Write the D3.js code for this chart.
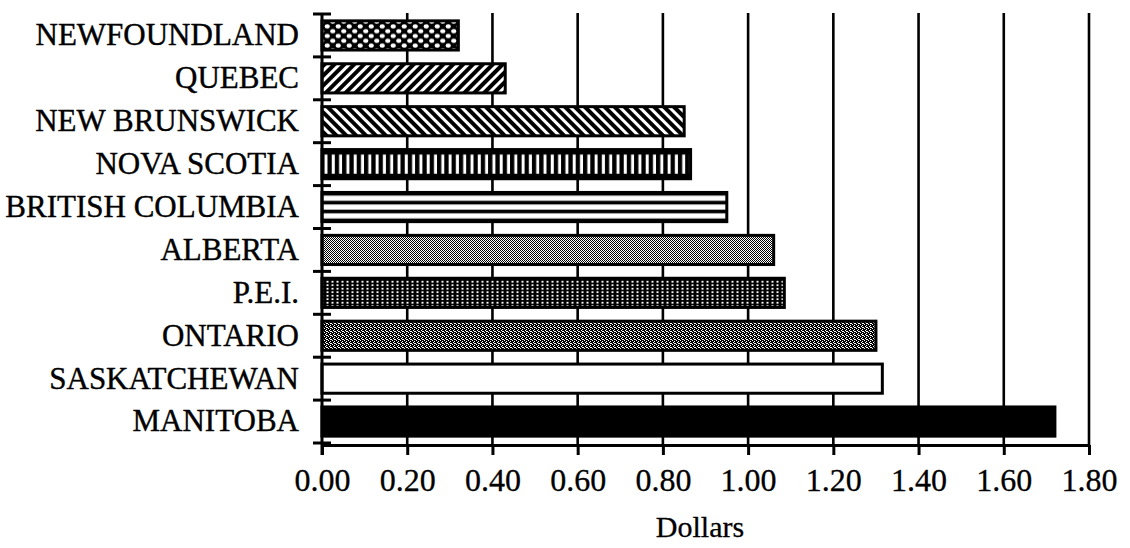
<!DOCTYPE html>
<html>
<head>
<meta charset="utf-8">
<script src="https://cdn.jsdelivr.net/npm/d3@7"></script>
<style>
  html, body { margin: 0; padding: 0; background: #fff; }
  svg { display: block; }
  text { font-family: "Liberation Serif", "Times New Roman", serif; fill: #000; }
</style>
</head>
<body>
<svg id="chart" width="1130" height="548"></svg>
<script>
// Per-province amounts, in dollars
const provinces = ["NEWFOUNDLAND", "QUEBEC", "NEW BRUNSWICK", "NOVA SCOTIA", "BRITISH COLUMBIA",
                   "ALBERTA", "P.E.I.", "ONTARIO", "SASKATCHEWAN", "MANITOBA"];
const dollars = [0.32, 0.43, 0.85, 0.865, 0.95, 1.06, 1.085, 1.30, 1.315, 1.72];
const tickValues = [0, 0.2, 0.4, 0.6, 0.8, 1.0, 1.2, 1.4, 1.6, 1.8];
const axisTitle = "Dollars";

// Fill style for each bar, in the same order as the provinces
const fillStyles = ["dots", "fwd", "back", "vert", "horiz", "light", "pei", "ont", "white", "black"];

const svg = d3.select("#chart");
const x = d3.scaleLinear().domain([0, 1.8]).range([322, 1089]);
const y = d3.scaleBand().domain(provinces).range([14, 443]).paddingInner(0.32).paddingOuter(0.16);
const axisY = 445;

// ---------- hatch / halftone patterns ----------
const defs = svg.append("defs");
function pattern(id, w, h) {
  return defs.append("pattern").attr("id", id)
    .attr("patternUnits", "userSpaceOnUse").attr("width", w).attr("height", h);
}
// coarse white dots on black
{
  const p = pattern("dots", 11, 9.6);
  p.append("rect").attr("width", 11).attr("height", 9.6).attr("fill", "#000");
  p.append("ellipse").attr("cx", 2.75).attr("cy", 2.4).attr("rx", 2.6).attr("ry", 2.1).attr("fill", "#fff");
  p.append("ellipse").attr("cx", 8.25).attr("cy", 7.2).attr("rx", 2.6).attr("ry", 2.1).attr("fill", "#fff");
}
// diagonal stripes
for (const [id, ang] of [["fwd", 45], ["back", -45]]) {
  const p = pattern(id, 7, 7).attr("patternTransform", `rotate(${ang})`);
  p.append("rect").attr("width", 7).attr("height", 7).attr("fill", "#fff");
  p.append("rect").attr("width", 4).attr("height", 7).attr("fill", "#000");
}
// fine light halftone
{
  const p = pattern("light", 2, 2);
  p.append("rect").attr("width", 2).attr("height", 2).attr("fill", "#fff");
  p.append("rect").attr("width", 1).attr("height", 1).attr("fill", "#000");
  p.append("rect").attr("x", 1).attr("y", 1).attr("width", 1).attr("height", 1).attr("fill", "#000");
}
// dark screen with white dot columns
{
  const p = pattern("pei", 5, 3.5);
  p.append("rect").attr("width", 5).attr("height", 3.5).attr("fill", "#000");
  p.append("rect").attr("x", 1.5).attr("y", 0.8).attr("width", 2).attr("height", 1.8).attr("fill", "#fff");
}
// medium-dark fine screen
{
  const p = pattern("ont", 4, 4);
  p.append("rect").attr("width", 4).attr("height", 4).attr("fill", "#000");
  [[0, 0], [2, 1], [1, 2], [3, 3], [2, 3]].forEach(([a, b]) =>
    p.append("rect").attr("x", a).attr("y", b).attr("width", 1).attr("height", 1).attr("fill", "#fff"));
}
// vertical bars and horizontal rules, aligned to their own bar
{
  const yv = y("NOVA SCOTIA"), h = y.bandwidth();
  const p = pattern("vert", 7.3, h).attr("x", x(0)).attr("y", yv);
  p.append("rect").attr("width", 7.3).attr("height", h).attr("fill", "#000");
  p.append("rect").attr("x", 2.5).attr("y", 5).attr("width", 3).attr("height", h - 10).attr("fill", "#fff");
}
{
  const yh = y("BRITISH COLUMBIA"), h = y.bandwidth();
  const p = pattern("horiz", 10, h).attr("x", x(0)).attr("y", yh);
  p.append("rect").attr("width", 10).attr("height", h).attr("fill", "#000");
  const unit = h / 28;
  [3, 11.5, 20].forEach(s =>
    p.append("rect").attr("y", s * unit).attr("width", 10).attr("height", 5 * unit).attr("fill", "#fff"));
}
const fillFor = s => s === "white" ? "#fff" : s === "black" ? "#000" : `url(#${s})`;

// ---------- vertical grid lines ----------
svg.append("g").selectAll("line")
  .data(tickValues.filter(v => v > 0))
  .join("line")
  .attr("x1", d => x(d)).attr("x2", d => x(d))
  .attr("y1", 13).attr("y2", axisY)
  .attr("stroke", "#000").attr("stroke-width", 2.6);

// ---------- bars ----------
svg.append("g").selectAll("rect")
  .data(provinces.map((p, i) => ({ p, v: dollars[i], f: fillStyles[i] })))
  .join("rect")
  .attr("x", x(0))
  .attr("y", d => y(d.p))
  .attr("width", d => x(d.v) - x(0))
  .attr("height", y.bandwidth())
  .attr("fill", d => fillFor(d.f))
  .attr("stroke", "#000").attr("stroke-width", 3);

// ---------- category axis ----------
const yAxis = svg.append("g")
  .attr("transform", `translate(${x(0)},0)`)
  .call(d3.axisLeft(y).tickSize(0).tickPadding(23));
yAxis.select(".domain").remove();
yAxis.selectAll("text")
  .attr("font-size", 31).attr("font-family", null)
  .attr("stroke", "#000").attr("stroke-width", 0.4);

svg.append("line")
  .attr("x1", x(0)).attr("x2", x(0))
  .attr("y1", y.range()[0]).attr("y2", axisY + 10)
  .attr("stroke", "#000").attr("stroke-width", 3);

// cross ticks on the band boundaries
const bounds = d3.range(provinces.length + 1).map(i => y.range()[0] + i * y.step());
svg.append("g").selectAll("line")
  .data(bounds)
  .join("line")
  .attr("x1", x(0) - 9).attr("x2", x(0) + 9)
  .attr("y1", d => d).attr("y2", d => d)
  .attr("stroke", "#000").attr("stroke-width", 3);

// ---------- value axis ----------
const xAxis = svg.append("g")
  .attr("transform", `translate(0,${axisY})`)
  .call(d3.axisBottom(x).tickValues(tickValues).tickFormat(d3.format(".2f"))
    .tickSize(10).tickSizeOuter(0).tickPadding(13));
xAxis.select(".domain").attr("stroke-width", 3);
xAxis.selectAll(".tick line").attr("stroke-width", 3);
xAxis.selectAll("text")
  .attr("font-size", 32).attr("font-family", null)
  .attr("stroke", "#000").attr("stroke-width", 0.3);

svg.append("text")
  .attr("x", 700).attr("y", 537)
  .attr("text-anchor", "middle")
  .attr("font-size", 30)
  .attr("stroke", "#000").attr("stroke-width", 0.3)
  .text(axisTitle);
</script>
</body>
</html>
